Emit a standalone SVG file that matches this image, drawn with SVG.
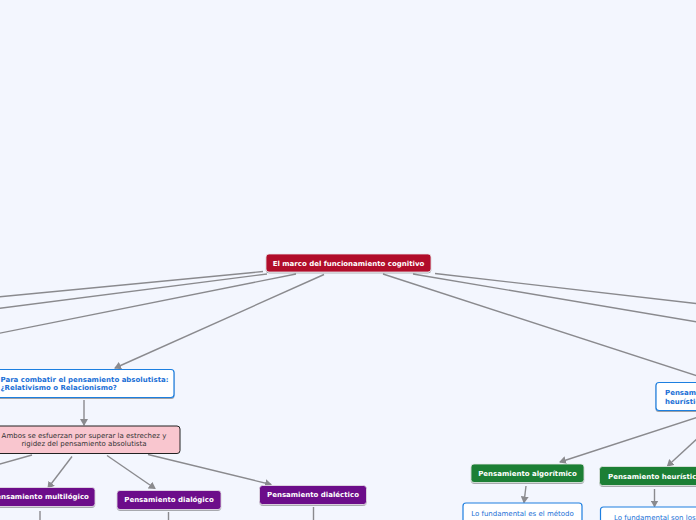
<svg xmlns="http://www.w3.org/2000/svg" width="696" height="520" viewBox="0 0 696 520">
<defs>
<marker id="arr" markerWidth="8" markerHeight="8" refX="6" refY="4" orient="auto" markerUnits="userSpaceOnUse">
<path d="M0,0 L7,4 L0,8 Z" fill="#8a8a8e"/>
</marker>
<filter id="sh" x="-10%" y="-20%" width="120%" height="160%">
<feDropShadow dx="0" dy="1" stdDeviation="0.6" flood-color="#000" flood-opacity="0.35"/>
</filter>
<style>
.bg{fill:#f3f6fe}
.c{fill:none;stroke:#8a8a8e;stroke-width:1.4}
.ca{fill:none;stroke:#8a8a8e;stroke-width:1.4;marker-end:url(#arr)}
.t{font-family:"DejaVu Sans","Verdana",sans-serif;font-size:7px}
.b{font-weight:bold}
.w{fill:#ffffff}
.bl{fill:#1a6fd6}
.dk{fill:#333333}
.main{fill:#b1082b;stroke:#e8e8e8;stroke-width:0.8}
.pur{fill:#6c0a8a;stroke:#e8e8e8;stroke-width:0.8}
.grn{fill:#1b7f36;stroke:#e8e8e8;stroke-width:0.8}
.wht{fill:#ffffff;stroke:#1e7fe0;stroke-width:1.2}
.pnk{fill:#f9c6cf;stroke:#222222;stroke-width:1}
</style>
</defs>
<rect class="bg" x="0" y="0" width="696" height="520"/>
<g id="connectors">
<line class="c" x1="263" y1="271.5" x2="-2" y2="297"/>
<line class="c" x1="267" y1="274" x2="-2" y2="308.5"/>
<line class="c" x1="296" y1="274" x2="-2" y2="333.5"/>
<line class="ca" x1="324" y1="274.5" x2="115" y2="368"/>
<line class="c" x1="435" y1="273.5" x2="700" y2="304"/>
<line class="c" x1="413" y1="274" x2="700" y2="322.5"/>
<line class="c" x1="383" y1="274" x2="710" y2="380"/>
<line class="ca" x1="84" y1="400" x2="84" y2="425"/>
<line class="c" x1="32" y1="455" x2="-2" y2="464.5"/>
<line class="ca" x1="72" y1="456.5" x2="48" y2="488"/>
<line class="ca" x1="107" y1="455.5" x2="155" y2="488.5"/>
<line class="ca" x1="148" y1="454.5" x2="271" y2="484.5"/>
<line class="c" x1="40" y1="511" x2="40" y2="522"/>
<line class="c" x1="168.5" y1="512" x2="168.5" y2="522"/>
<line class="c" x1="313.5" y1="507" x2="313.5" y2="522"/>
<line class="ca" x1="720" y1="410" x2="560" y2="462"/>
<line class="ca" x1="712" y1="425" x2="667.5" y2="466"/>
<line class="ca" x1="526" y1="486" x2="524" y2="502.5"/>
<line class="ca" x1="654.5" y1="489" x2="654.5" y2="506.5"/>
</g>
<g id="n-main">
<rect class="main" x="266" y="254" width="165" height="18" rx="3" filter="url(#sh)"/>
<text class="t b w" x="348.5" y="265.5" text-anchor="middle">El marco del funcionamiento cognitivo</text>
</g>
<g id="n-combatir">
<rect class="wht" x="-8" y="369.5" width="182" height="28" rx="3" filter="url(#sh)"/>
<text class="t b bl" x="0.5" y="382">Para combatir el pensamiento absolutista:</text>
<text class="t b bl" x="0.5" y="390">¿Relativismo o Relacionismo?</text>
</g>
<g id="n-ambos">
<rect class="pnk" x="-12" y="426" width="192" height="27.5" rx="3"/>
<text class="t dk" x="84" y="437.5" text-anchor="middle">Ambos se esfuerzan por superar la estrechez y</text>
<text class="t dk" x="84" y="445.5" text-anchor="middle">rigidez del pensamiento absolutista</text>
</g>
<g id="n-multilogico">
<rect class="pur" x="-15" y="487.5" width="110" height="19" rx="3" filter="url(#sh)"/>
<text class="t b w" x="40" y="498.5" text-anchor="middle">Pensamiento multilógico</text>
</g>
<g id="n-dialogico">
<rect class="pur" x="117" y="490.5" width="104" height="19" rx="3" filter="url(#sh)"/>
<text class="t b w" x="169" y="501.5" text-anchor="middle">Pensamiento dialógico</text>
</g>
<g id="n-dialectico">
<rect class="pur" x="259.5" y="485.5" width="107" height="19" rx="3" filter="url(#sh)"/>
<text class="t b w" x="313" y="497" text-anchor="middle">Pensamiento dialéctico</text>
</g>
<g id="n-heur-top">
<rect class="wht" x="656" y="382.5" width="120" height="28" rx="3" filter="url(#sh)"/>
<text class="t b bl" x="665" y="395">Pensamiento algorítmico y</text>
<text class="t b bl" x="665" y="403.5">heurístico</text>
</g>
<g id="n-algoritmico">
<rect class="grn" x="471" y="464" width="113" height="18.5" rx="3" filter="url(#sh)"/>
<text class="t b w" x="527.5" y="475.5" text-anchor="middle">Pensamiento algorítmico</text>
</g>
<g id="n-heuristico">
<rect class="grn" x="599.5" y="466.5" width="112" height="19" rx="3" filter="url(#sh)"/>
<text class="t b w" x="608" y="478.5">Pensamiento heurístico</text>
</g>
<g id="n-metodo">
<rect class="wht" x="463" y="503" width="119" height="30" rx="3"/>
<text class="t bl" x="522.5" y="515.5" text-anchor="middle">Lo fundamental es el método</text>
</g>
<g id="n-son-los">
<rect class="wht" x="600.5" y="507" width="120" height="30" rx="3"/>
<text class="t bl" x="614" y="519.5">Lo fundamental son los</text>
</g>
</svg>
